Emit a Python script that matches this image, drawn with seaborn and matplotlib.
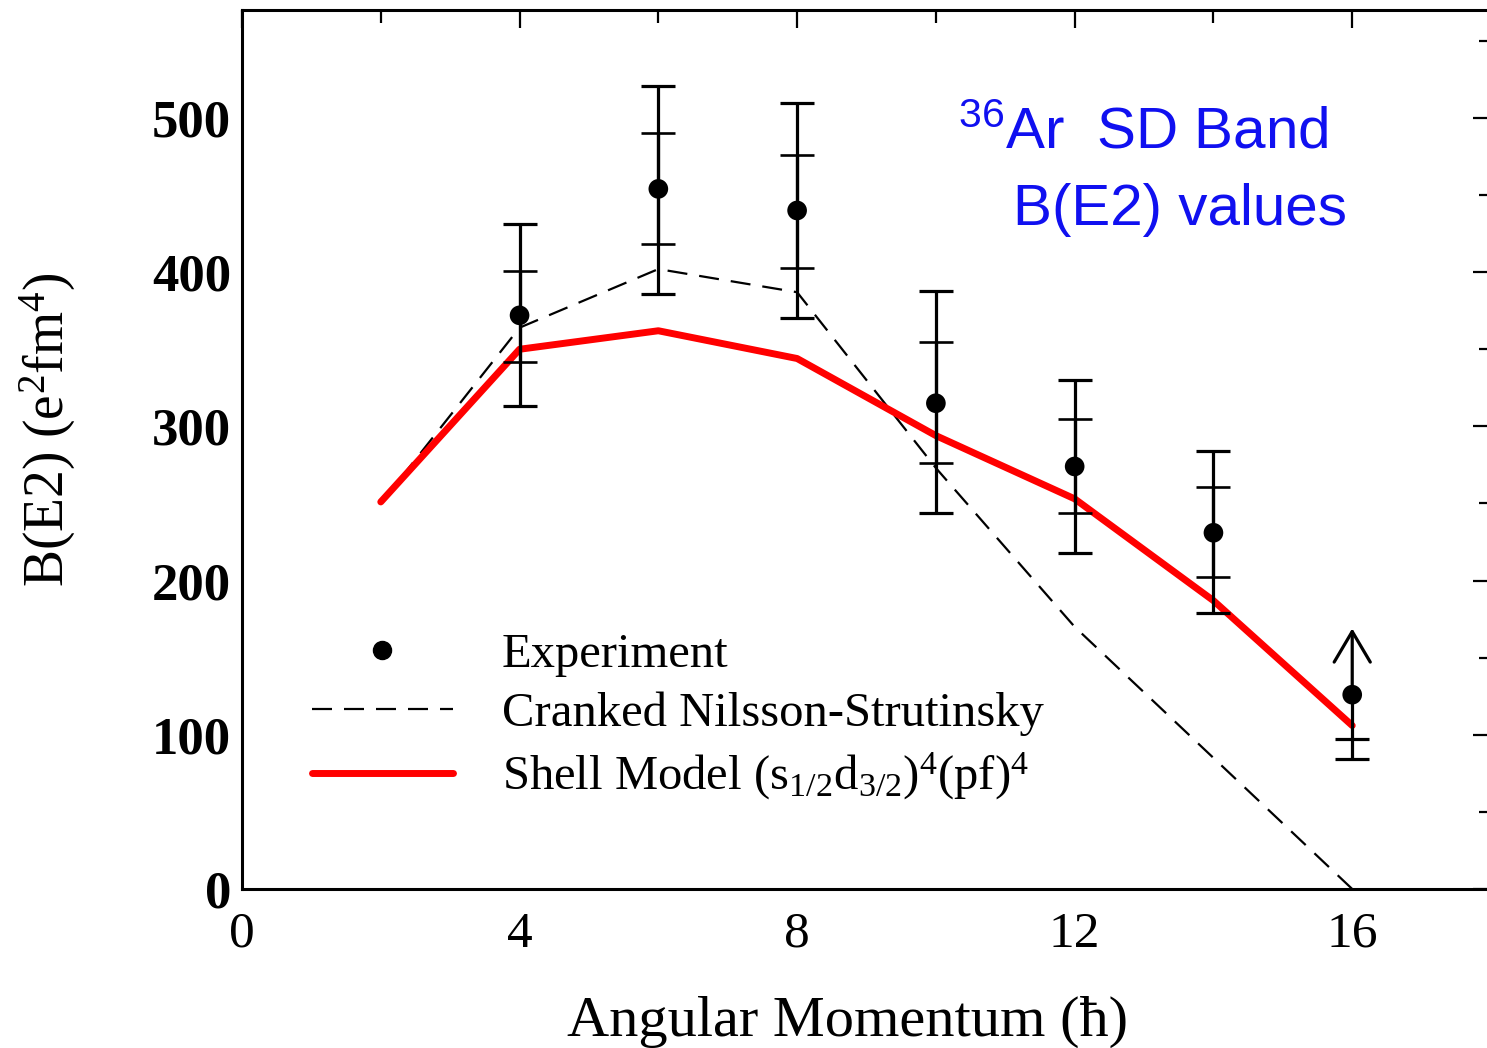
import numpy as np
import pandas as pd
import matplotlib
matplotlib.use("Agg")
import matplotlib.pyplot as plt
import seaborn as sns
from matplotlib.lines import Line2D
from matplotlib.ticker import MultipleLocator

# ------------------------
# data
# ------------------------
spin = [2, 4, 6, 8, 10, 12, 14, 16]
cns = [250, 364, 402, 387, 273, 170, 85, 0]
shell = [251, 350, 362, 344, 294, 253, 187, 106]

exp_spin = [4, 6, 8, 10, 12, 14]
exp_be2 = [372, 454, 440, 315, 274, 231]
err_outer_lo = [313, 386, 370, 244, 218, 179]
err_outer_hi = [431, 521, 510, 388, 330, 284]
err_inner_lo = [342, 418, 403, 276, 244, 202]
err_inner_hi = [401, 490, 476, 355, 305, 261]

# last point is only a lower limit
lim_spin = [16]
lim_be2 = [126]
lim_lo_outer = [84]
lim_lo_inner = [97]
lim_top = [169]

x_ticks = [0, 4, 8, 12, 16]
y_ticks = [0, 100, 200, 300, 400, 500]

theory = pd.DataFrame({"spin": spin, "cns": cns, "shell": shell})
expt = pd.DataFrame({"spin": exp_spin, "be2": exp_be2})
limit = pd.DataFrame({"spin": lim_spin, "be2": lim_be2})

sns.set_style("white")
plt.rcParams["font.family"] = ["Liberation Serif", "DejaVu Serif"]
plt.rcParams["mathtext.default"] = "regular"
for key in ["text.color", "axes.labelcolor", "xtick.color", "ytick.color", "axes.edgecolor"]:
    plt.rcParams[key] = "black"

dash = (0, (9, 5.4))

fig = plt.figure(figsize=(14.87, 10.48), dpi=100)
ax = fig.add_axes([242 / 1487, 159 / 1048, 1249 / 1487, 879 / 1048])

sns.lineplot(data=theory, x="spin", y="cns", ax=ax, color="black", lw=1.6,
             linestyle=dash, zorder=2)
sns.lineplot(data=theory, x="spin", y="shell", ax=ax, color="#ff0000", lw=5,
             zorder=3)

# error bars: outer and inner
exp_arr = np.array(exp_be2)
ax.errorbar(exp_spin, exp_be2,
            yerr=[exp_arr - np.array(err_outer_lo), np.array(err_outer_hi) - exp_arr],
            fmt="none", ecolor="black", elinewidth=2.3, capsize=12, capthick=2.3, zorder=4)
ax.errorbar(exp_spin, exp_be2,
            yerr=[exp_arr - np.array(err_inner_lo), np.array(err_inner_hi) - exp_arr],
            fmt="none", ecolor="black", elinewidth=2.3, capsize=12, capthick=1.9, zorder=4)

# lower limit point
ax.vlines(lim_spin, lim_lo_outer, lim_be2, color="black", lw=2.3, zorder=4)
ax.plot(lim_spin, lim_lo_outer, marker="_", ms=24, mew=2.3, color="black", ls="none", zorder=4)
ax.plot(lim_spin, lim_lo_inner, marker="_", ms=24, mew=2.3, color="black", ls="none", zorder=4)
for xs, yb, yt in zip(lim_spin, lim_be2, lim_top):
    ax.annotate("", xy=(xs, yt), xytext=(xs, yb),
                arrowprops=dict(arrowstyle="->,head_length=1.1,head_width=0.65",
                                lw=2.3, color="black", shrinkA=0, shrinkB=0,
                                mutation_scale=20), zorder=4)

sns.scatterplot(data=expt, x="spin", y="be2", ax=ax, color="black", s=200,
                edgecolor="none", zorder=5)
sns.scatterplot(data=limit, x="spin", y="be2", ax=ax, color="black", s=200,
                edgecolor="none", zorder=5)

ax.set_xlim(0, 18)
ax.set_ylim(0, 570)
ax.set_xticks(x_ticks)
ax.set_yticks(y_ticks)
ax.xaxis.set_minor_locator(MultipleLocator(2))
ax.yaxis.set_minor_locator(MultipleLocator(50))
ax.tick_params(which="both", direction="in", top=True, right=True, width=1.6, color="black")
ax.tick_params(which="major", length=13)
ax.tick_params(which="minor", length=9)
ax.tick_params(axis="x", labelsize=37, pad=16)
ax.tick_params(axis="y", labelsize=38, pad=8)
for lab in ax.get_yticklabels():
    lab.set_fontweight("bold")
for sp in ax.spines.values():
    sp.set_linewidth(2.2)
    sp.set_color("black")

ax.set_xlabel("Angular Momentum (ħ)", fontsize=42)
ax.set_ylabel("B(E2) (e$^2$fm$^4$)", fontsize=40)
ax.xaxis.set_label_coords(0.485, -0.122)
ax.yaxis.set_label_coords(-0.131, 0.522)

# legend
handles = [
    Line2D([], [], marker="o", color="black", ls="none", ms=13),
    Line2D([], [], color="black", lw=1.6, linestyle=dash),
    Line2D([], [], color="#ff0000", lw=5),
]
labels = ["Experiment", "Cranked Nilsson-Strutinsky",
          "Shell Model (s$_{1/2}$d$_{3/2}$)$^4$(pf)$^4$"]
ax.legend(handles, labels, loc="upper left", bbox_to_anchor=(0.056, 0.291),
          frameon=False, fontsize=35, handlelength=2.9, handletextpad=1.0,
          labelspacing=0.3, borderpad=0, borderaxespad=0)

# title text in blue
ax.text(0.5734, 0.843, "$^{36}$Ar  SD Band", transform=ax.transAxes, color="#1010f0",
        fontsize=42, family=["Liberation Sans", "DejaVu Sans"], ha="left", va="baseline")
ax.text(0.6174, 0.7554, "B(E2) values", transform=ax.transAxes, color="#1010f0",
        fontsize=42, family=["Liberation Sans", "DejaVu Sans"], ha="left", va="baseline")

fig.savefig("out.png", dpi=100)
